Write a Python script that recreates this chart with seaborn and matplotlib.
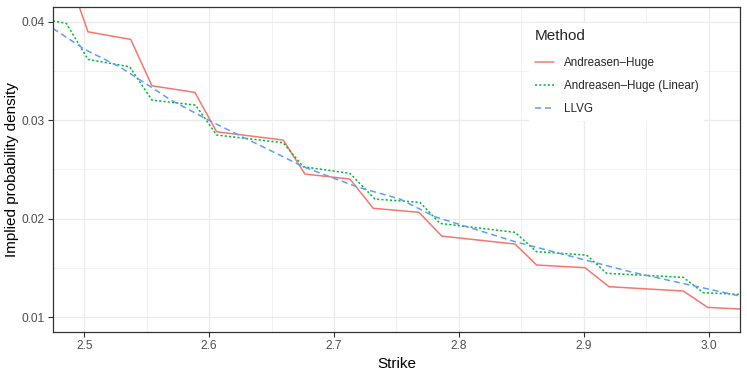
import pandas as pd
import matplotlib
matplotlib.use("Agg")
import matplotlib.pyplot as plt
import seaborn as sns
from matplotlib.ticker import MultipleLocator

# Data
ah_strike = [2.4749, 2.4856, 2.5030, 2.5372, 2.5542, 2.5886, 2.6060, 2.6593, 2.6767,
             2.7127, 2.7314, 2.7680, 2.7862, 2.8449, 2.8622, 2.9009, 2.9201, 2.9796,
             2.9991, 3.0250]
ah_density = [0.04550, 0.04530, 0.03898, 0.03821, 0.03350, 0.03283, 0.02883, 0.02799,
              0.02454, 0.02403, 0.02106, 0.02065, 0.01824, 0.01743, 0.01530, 0.01503,
              0.01310, 0.01266, 0.01100, 0.01083]

ahl_strike = [2.4749, 2.4856, 2.5030, 2.5364, 2.5542, 2.5891, 2.6060, 2.6593, 2.6753,
              2.7127, 2.7327, 2.7688, 2.7848, 2.8449, 2.8622, 2.9022, 2.9182, 2.9796,
              2.9956, 3.0250]
ahl_density = [0.04010, 0.03984, 0.03618, 0.03543, 0.03205, 0.03154, 0.02850, 0.02772,
               0.02528, 0.02461, 0.02200, 0.02166, 0.01953, 0.01862, 0.01665, 0.01631,
               0.01446, 0.01405, 0.01249, 0.01232]

llvg_strike = [2.4749, 2.5003, 2.5283, 2.5523, 2.5694, 2.6020, 2.6593, 2.6753, 2.7181,
               2.7528, 2.7808, 2.8449, 2.9370, 3.0250]
llvg_density = [0.03933, 0.03720, 0.03543, 0.03347, 0.03205, 0.02985, 0.02629, 0.02528,
                0.02325, 0.02200, 0.02020, 0.01767, 0.01462, 0.01215]

methods = ["Andreasen\u2013Huge", "Andreasen\u2013Huge (Linear)", "LLVG"]
colors = ["#F8766D", "#00BA38", "#619CFF"]

df = pd.concat([
    pd.DataFrame({"Strike": ah_strike, "Density": ah_density, "Method": methods[0]}),
    pd.DataFrame({"Strike": ahl_strike, "Density": ahl_density, "Method": methods[1]}),
    pd.DataFrame({"Strike": llvg_strike, "Density": llvg_density, "Method": methods[2]}),
], ignore_index=True)

sns.set_theme(style="white")
plt.rcParams["font.family"] = ["Liberation Sans", "DejaVu Sans"]

fig = plt.figure(figsize=(7.47, 3.74), dpi=100)
ax = fig.add_axes([53 / 747, 1 - 332 / 374, 687 / 747, 325 / 374])

sns.lineplot(data=df, x="Strike", y="Density", hue="Method", style="Method",
             hue_order=methods, style_order=methods,
             palette=dict(zip(methods, colors)),
             dashes={methods[0]: "", methods[1]: (1.4, 1.4), methods[2]: (4, 2.5)},
             estimator=None, sort=True, linewidth=1.1, ax=ax)

ax.set_xlim(2.475, 3.025)
ax.set_ylim(0.0085, 0.0415)
ax.xaxis.set_major_locator(MultipleLocator(0.1))
ax.xaxis.set_minor_locator(MultipleLocator(0.05))
ax.yaxis.set_major_locator(MultipleLocator(0.01))
ax.yaxis.set_minor_locator(MultipleLocator(0.005))
ax.set_xticklabels([f"{v:.1f}" for v in ax.get_xticks()])
ax.set_yticklabels([f"{v:.2f}" for v in ax.get_yticks()])

ax.grid(which="major", color="#EBEBEB", linewidth=0.9)
ax.grid(which="minor", color="#EBEBEB", linewidth=0.5)
ax.set_axisbelow(True)
for s in ax.spines.values():
    s.set_color("#333333")
    s.set_linewidth(0.9)
ax.tick_params(which="major", length=3.5, width=0.8, color="#333333",
               labelsize=8.6, labelcolor="#4D4D4D", pad=2.5, bottom=True, left=True)
ax.tick_params(which="minor", length=0)

ax.set_xlabel("Strike", fontsize=11, color="black", labelpad=3)
ax.set_ylabel("Implied probability density", fontsize=11, color="black", labelpad=1.5)

leg = ax.legend(title="Method", loc="upper left", bbox_to_anchor=(0.684, 0.968),
                frameon=True, fancybox=False, framealpha=1, facecolor="white",
                edgecolor="white", fontsize=8.4, title_fontsize=11,
                handlelength=1.7, handletextpad=0.8, labelspacing=0.95,
                borderpad=0.5, alignment="left")
leg.get_frame().set_linewidth(0)
# a little more room between the title and the first entry
leg._legend_box.sep = 10

fig.savefig("out.png", dpi=100)
plt.close(fig)
